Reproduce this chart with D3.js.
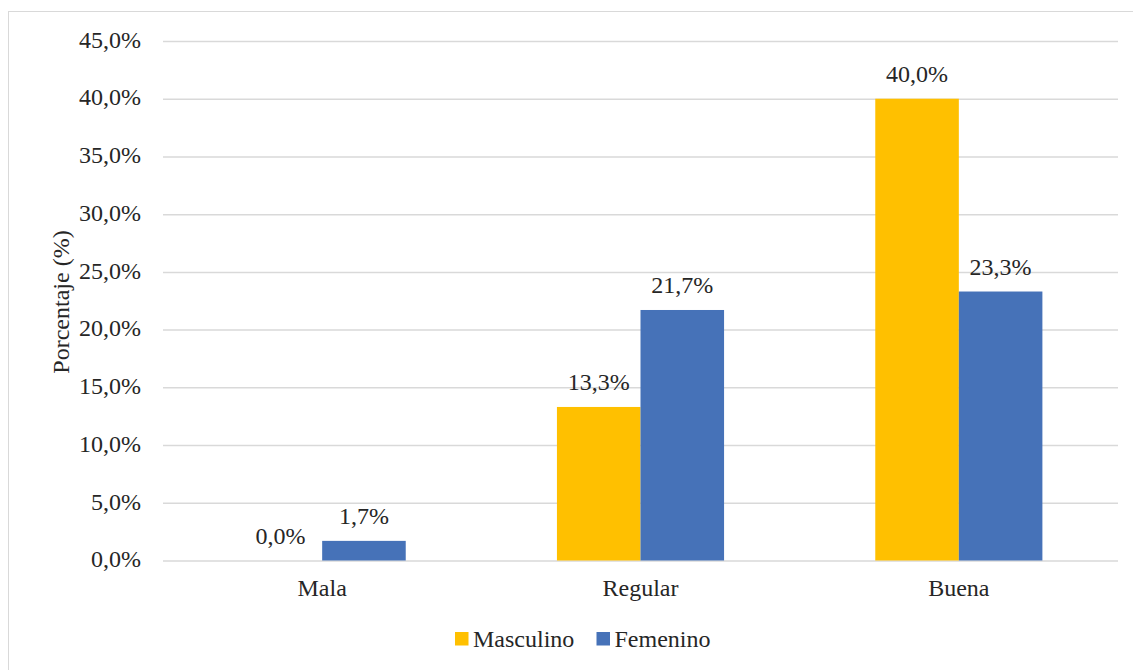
<!DOCTYPE html>
<html>
<head>
<meta charset="utf-8">
<script src="https://cdn.jsdelivr.net/npm/d3@7"></script>
<style>
  html, body { margin: 0; padding: 0; background: #fff; }
  svg { display: block; font-family: "Liberation Serif", "Times New Roman", serif; }
</style>
</head>
<body>
<svg id="chart" width="1133" height="670"></svg>
<script>
// Opinion categories and percentages by sex
const categories = ["Mala", "Regular", "Buena"];
const seriesNames = ["Masculino", "Femenino"];
const masculino = [0.0, 13.3, 40.0];
const femenino = [1.7, 21.7, 23.3];
const yTicks = [0, 5, 10, 15, 20, 25, 30, 35, 40, 45];
const colors = ["#FFC000", "#4672B8"];

const svg = d3.select("#chart");
const W = 1133, H = 670;
const plot = { left: 163, right: 1118, top: 41, bottom: 560.5 };
const FONT = "Liberation Serif, Times New Roman, serif";
const FS = 24;
const TEXT = "#262626";

// Outer chart frame
svg.append("rect")
  .attr("x", 8.5).attr("y", 11.5)
  .attr("width", W + 10).attr("height", H)
  .attr("fill", "#fff").attr("stroke", "#D9D9D9").attr("stroke-width", 1);

const x = d3.scaleBand().domain(categories)
  .range([plot.left, plot.right])
  .paddingInner(0.475).paddingOuter(0.2375);
const xs = d3.scaleBand().domain(seriesNames).range([0, x.bandwidth()]);
const y = d3.scaleLinear().domain([0, 45]).range([plot.bottom, plot.top]);

const fmt = v => d3.format(".1f")(v).replace(".", ",") + "%";

// Gridlines and value axis
const yAxis = d3.axisLeft(y).tickValues(yTicks).tickFormat(fmt)
  .tickSize(-(plot.right - plot.left)).tickPadding(22);
const gy = svg.append("g").attr("transform", `translate(${plot.left},0)`).call(yAxis);
gy.select(".domain").remove();
gy.selectAll(".tick line").attr("stroke", "#D9D9D9").attr("stroke-width", 1.5);
gy.selectAll(".tick text").attr("fill", TEXT).attr("font-size", FS)
  .attr("font-family", FONT).attr("dy", "0.26em");

// Category axis
const xAxis = d3.axisBottom(x).tickSize(0).tickPadding(18.5);
const gx = svg.append("g").attr("transform", `translate(0,${plot.bottom})`).call(xAxis);
gx.select(".domain").remove();
gx.selectAll(".tick text").attr("fill", TEXT).attr("font-size", FS)
  .attr("font-family", FONT);

// Bars
const rows = categories.map((c, i) => ({ c, vals: [masculino[i], femenino[i]] }));
const groups = svg.append("g").selectAll("g").data(rows).join("g")
  .attr("transform", d => `translate(${x(d.c)},0)`);

groups.selectAll("rect")
  .data(d => d.vals.map((v, j) => ({ s: seriesNames[j], v, j })))
  .join("rect")
  .attr("x", d => xs(d.s))
  .attr("width", xs.bandwidth())
  .attr("y", d => y(d.v))
  .attr("height", d => y(0) - y(d.v))
  .attr("fill", d => colors[d.j]);

// Value labels
groups.selectAll("text")
  .data(d => d.vals.map((v, j) => ({ s: seriesNames[j], v, j })))
  .join("text")
  .attr("x", d => xs(d.s) + xs.bandwidth() / 2)
  .attr("y", d => y(d.v) - 17)
  .attr("text-anchor", "middle")
  .attr("font-size", FS)
  .attr("fill", TEXT)
  .text(d => fmt(d.v));

// Axis title
svg.append("text")
  .attr("transform", `translate(69,302) rotate(-90)`)
  .attr("text-anchor", "middle")
  .attr("font-size", FS)
  .attr("fill", TEXT)
  .text("Porcentaje (%)");

// Legend
const legendItems = [
  { name: seriesNames[0], color: colors[0], x: 455 },
  { name: seriesNames[1], color: colors[1], x: 596.5 }
];
const lg = svg.append("g");
legendItems.forEach(it => {
  lg.append("rect").attr("x", it.x).attr("y", 632).attr("width", 13.5).attr("height", 13.5)
    .attr("fill", it.color);
  lg.append("text").attr("x", it.x + 18).attr("y", 647)
    .attr("font-size", FS).attr("fill", TEXT).text(it.name);
});
</script>
</body>
</html>
